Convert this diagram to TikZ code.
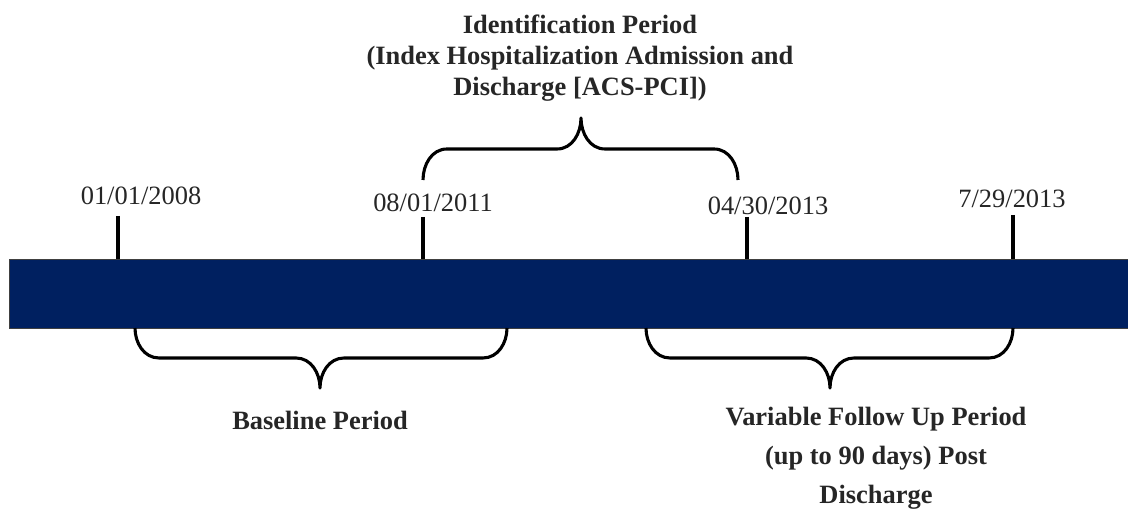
\documentclass[tikz,border=0pt]{standalone}
\usepackage{fontspec}
\setmainfont{Liberation Serif}
\usepackage{xcolor}
\usepackage{tikz}
\usetikzlibrary{positioning, calc}
\definecolor{barblue}{HTML}{002060}
\definecolor{labelgray}{HTML}{262626}
\tikzset{
  timebar/.style={rectangle, draw=black!75, line width=0.7pt, fill=barblue,
                  minimum width=28.25cm, minimum height=1.7cm, inner sep=0pt},
  datelabel/.style={anchor=base, text=labelgray, inner sep=0pt,
                    font=\fontsize{18.8}{22}\selectfont},
  periodlabel/.style={text=labelgray, align=center, inner sep=0pt,
                      font=\fontsize{18.8}{22}\selectfont\bfseries},
  tickline/.style={line width=2.6pt},
  bracket/.style={line width=2.2pt, line join=round},
}

\begin{document}
\begin{tikzpicture}[x=0.025cm, y=0.025cm]
  \useasboundingbox (0,0) rectangle (1128,511);

  \node[timebar] (bar) at (575,217) {};

  \node[datelabel] (d2008) at (141,306) {01/01/2008};
  \node[datelabel] (d2011) at (433,299) {08/01/2011};
  \node[datelabel] (d0430) at (768,296) {04/30/2013};
  \node[datelabel] (d0729) at (1012,303) {7/29/2013};

  \coordinate (t2008) at (118,295);
  \coordinate (t2011) at (423,294);
  \coordinate (t0430) at (747,294);
  \coordinate (t0729) at (1013,296);

  \draw[tickline] (t2008) -- (t2008 |- bar.north);
  \draw[tickline] (t2011) -- (t2011 |- bar.north);
  \draw[tickline] (t0430) -- (t0430 |- bar.north);
  \draw[tickline] (t0729) -- (t0729 |- bar.north);

  \coordinate (idS) at (423,331);
  \coordinate (idT) at (581,393);
  \coordinate (idE) at (738,331);
  \coordinate (blS) at (135,183);
  \coordinate (blT) at (320,123);
  \coordinate (blE) at (507,183);
  \coordinate (fuS) at (646,183);
  \coordinate (fuT) at (830,123);
  \coordinate (fuE) at (1013,183);

  \draw[bracket] (idS) to[out=90,in=180] ++(24,31) -- ($(idT)+(-24,-31)$)
    to[out=0,in=-90] (idT) to[out=-90,in=180] ++(24,-31)
    -- ($(idE)+(-24,31)$) to[out=0,in=90] (idE);
  \draw[bracket] (blS) to[out=-90,in=180] ++(24,-30) -- ($(blT)+(-24,30)$)
    to[out=0,in=90] (blT) to[out=90,in=180] ++(24,30)
    -- ($(blE)+(-24,-30)$) to[out=0,in=-90] (blE);
  \draw[bracket] (fuS) to[out=-90,in=180] ++(24,-30) -- ($(fuT)+(-24,30)$)
    to[out=0,in=90] (fuT) to[out=90,in=180] ++(24,30)
    -- ($(fuE)+(-24,-30)$) to[out=0,in=-90] (fuE);

  \node[periodlabel, anchor=north] (ident) at (580,496)
    {Identification Period\\(Index Hospitalization Admission and\\Discharge [ACS-PCI])};
  \node[periodlabel, anchor=base] (base) at (320,81) {Baseline Period};
  \node[periodlabel, anchor=north, font=\fontsize{18.8}{27.6}\selectfont\bfseries]
    (follow) at (876,104)
    {Variable Follow Up Period\\(up to 90 days) Post\\Discharge};
\end{tikzpicture}
\end{document}
